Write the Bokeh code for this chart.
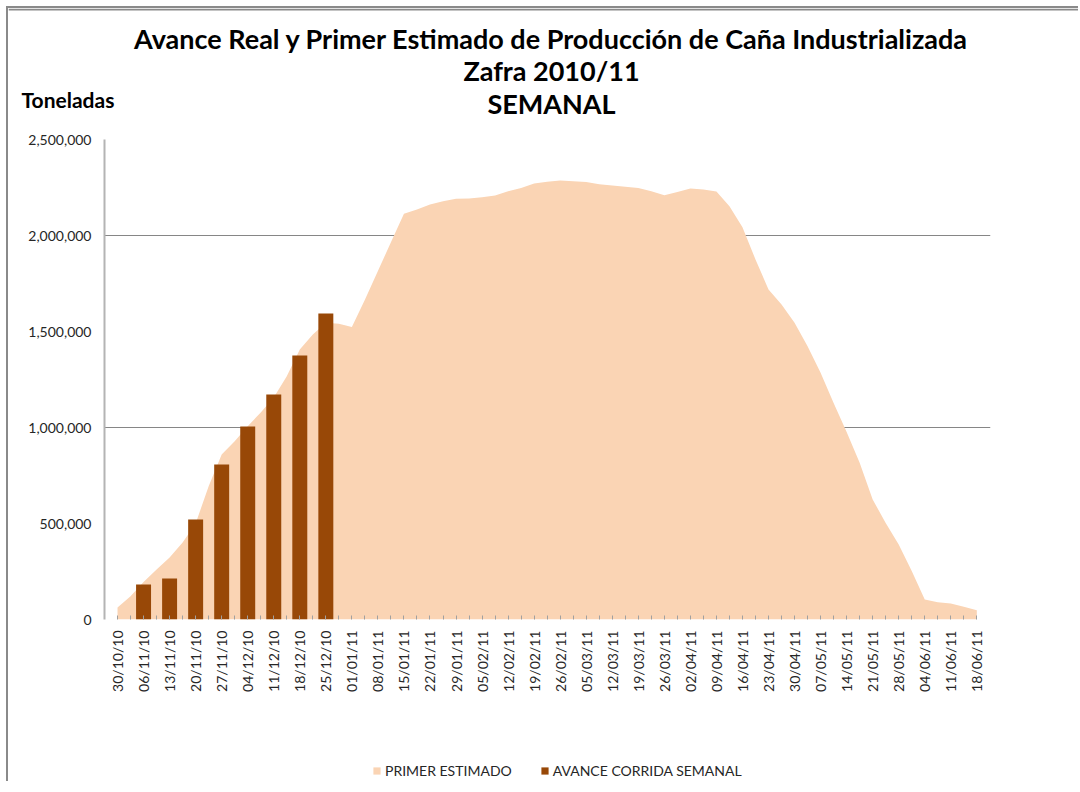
from bokeh.plotting import figure
from bokeh.layouts import column
from bokeh.models import (Range1d, FixedTicker, NumeralTickFormatter, Label,
                          Legend, LegendItem, Span)
from bokeh.embed import file_html
from bokeh.resources import INLINE
from math import pi

# ---- data ----
weeks = ["30/10/10", "06/11/10", "13/11/10", "20/11/10", "27/11/10", "04/12/10",
         "11/12/10", "18/12/10", "25/12/10", "01/01/11", "08/01/11", "15/01/11",
         "22/01/11", "29/01/11", "05/02/11", "12/02/11", "19/02/11", "26/02/11",
         "05/03/11", "12/03/11", "19/03/11", "26/03/11", "02/04/11", "09/04/11",
         "16/04/11", "23/04/11", "30/04/11", "07/05/11", "14/05/11", "21/05/11",
         "28/05/11", "04/06/11", "11/06/11", "18/06/11"]

# PRIMER ESTIMADO (two points per week)
primer_estimado = [62000, 121000, 195000, 260000, 323000, 401000, 500000, 694000,
                   859000, 929000, 1007000, 1078000, 1156000, 1267000, 1406000,
                   1484000, 1545000, 1540000, 1523000, 1665000, 1815000, 1965000,
                   2113000, 2135000, 2161000, 2179000, 2191000, 2193000, 2199000,
                   2208000, 2231000, 2248000, 2271000, 2280000, 2286000, 2283000,
                   2278000, 2267000, 2260000, 2254000, 2248000, 2231000, 2210000,
                   2227000, 2245000, 2240000, 2229000, 2152000, 2043000, 1875000,
                   1719000, 1640000, 1545000, 1423000, 1285000, 1128000, 977000,
                   816000, 625000, 503000, 391000, 252000, 104000, 90000, 83000,
                   66000, 48000]

# AVANCE CORRIDA SEMANAL
avance_weeks = ["06/11/10", "13/11/10", "20/11/10", "27/11/10", "04/12/10",
                "11/12/10", "18/12/10", "25/12/10"]
avance_vals = [182000, 214000, 521000, 807000, 1005000, 1172000, 1375000, 1594000]

y_ticks = [0, 500000, 1000000, 1500000, 2000000, 2500000]
grid_ticks = [1000000, 2000000, 2500000]

titles = ["Avance Real y Primer Estimado de Producción de Caña Industrializada",
          "Zafra 2010/11", "SEMANAL"]
y_title = "Toneladas"
series_names = ["PRIMER ESTIMADO", "AVANCE CORRIDA SEMANAL"]

FONT = "Lato"
AREA_COLOR = "#FAD4B4"
BAR_COLOR = "#984807"
W = 1070


def bare(fig):
    fig.grid.visible = False
    fig.outline_line_color = None
    fig.min_border = 0
    fig.border_fill_color = "white"
    fig.background_fill_color = "white"
    try:
        fig.frame_align = False
    except Exception:
        pass


# ---- header (titles) ----
H1 = 120
head = figure(width=W, height=H1, output_backend="svg", toolbar_location=None,
              x_range=Range1d(0, W), y_range=Range1d(0, H1),
              x_axis_location=None, y_axis_location=None)
bare(head)
head.add_layout(Span(location=H1 - 1, dimension="width", line_color="#8a8a8a",
                     line_width=2))
for t, ty in zip(titles, [90, 58, 25]):
    head.add_layout(Label(x=543, y=ty, text=t, text_align="center",
                          text_baseline="middle", text_font=FONT,
                          text_font_style="bold", text_font_size="27px",
                          text_color="black"))
head.add_layout(Label(x=13, y=29, text=y_title, text_align="left",
                      text_baseline="middle", text_font=FONT,
                      text_font_style="bold", text_font_size="21px",
                      text_color="black"))

# ---- main chart ----
p = figure(width=W, height=571, output_backend="svg", toolbar_location=None,
           x_range=Range1d(-1, 67.05), y_range=Range1d(0, 2500000),
           min_border_left=96, min_border_right=88, min_border_top=11,
           min_border_bottom=80)
p.outline_line_color = None
p.background_fill_color = "white"
p.border_fill_color = "white"

idx = list(range(len(primer_estimado)))
area = p.varea(x=idx, y1=0, y2=primer_estimado, fill_color=AREA_COLOR)
bar_x = [2 * weeks.index(w) for w in avance_weeks]
bars = p.vbar(x=bar_x, top=avance_vals, width=1.15, fill_color=BAR_COLOR,
              line_color=None)

xa = p.xaxis[0]
xa.ticker = FixedTicker(ticks=idx)
xa.major_label_overrides = {i: (weeks[i // 2] if i % 2 == 0 else "") for i in idx}
xa.major_label_orientation = pi / 2
xa.major_label_text_font = FONT
xa.major_label_text_font_size = "14px"
xa.major_label_text_color = "#262626"
xa.axis_line_color = None
xa.major_tick_in = 4
xa.major_tick_out = 0
xa.major_tick_line_color = "#a0a0a0"
xa.minor_tick_line_color = None
xa.major_label_standoff = 11

ya = p.yaxis[0]
ya.ticker = FixedTicker(ticks=y_ticks)
ya.formatter = NumeralTickFormatter(format="0,0")
ya.major_label_text_font = FONT
ya.major_label_text_font_size = "14px"
ya.major_label_text_color = "#262626"
ya.axis_line_color = "#b4b4b4"
ya.axis_line_width = 2
ya.major_tick_out = 0
ya.major_tick_in = 0
ya.minor_tick_line_color = None
ya.major_label_standoff = 13

p.xgrid.grid_line_color = None
p.ygrid.ticker = FixedTicker(ticks=grid_ticks)
p.ygrid.grid_line_color = "#868686"
p.ygrid.grid_line_width = 1

# ---- footer (legend) ----
H3 = 82
foot = figure(width=W, height=H3, output_backend="svg", toolbar_location=None,
              x_range=Range1d(0, W), y_range=Range1d(0, H3),
              x_axis_location=None, y_axis_location=None)
bare(foot)
# legend proxies (same series, hidden; only their legend swatches are shown)
r_area = foot.varea(x=idx, y1=0, y2=primer_estimado, fill_color=AREA_COLOR,
                    visible=False)
r_bar = foot.vbar(x=bar_x, top=avance_vals, width=1, fill_color=BAR_COLOR,
                  line_color=None, visible=False)
legend = Legend(items=[LegendItem(label=series_names[0], renderers=[r_area]),
                       LegendItem(label=series_names[1], renderers=[r_bar])],
                orientation="horizontal", location=(364, 2),
                glyph_width=9, glyph_height=9, label_standoff=4, spacing=28,
                padding=0, margin=0, border_line_color=None,
                background_fill_alpha=0, label_text_font=FONT,
                label_text_font_size="14px", label_text_color="#262626",
                click_policy="none")
foot.add_layout(legend, "center")

layout = column(head, p, foot, spacing=0)
layout.styles = {"border-top": "2px solid #8a8a8a",
                 "border-left": "2px solid #8a8a8a",
                 "margin-top": "6px", "margin-left": "6px"}

open("out.html", "w").write(file_html(layout, INLINE))
